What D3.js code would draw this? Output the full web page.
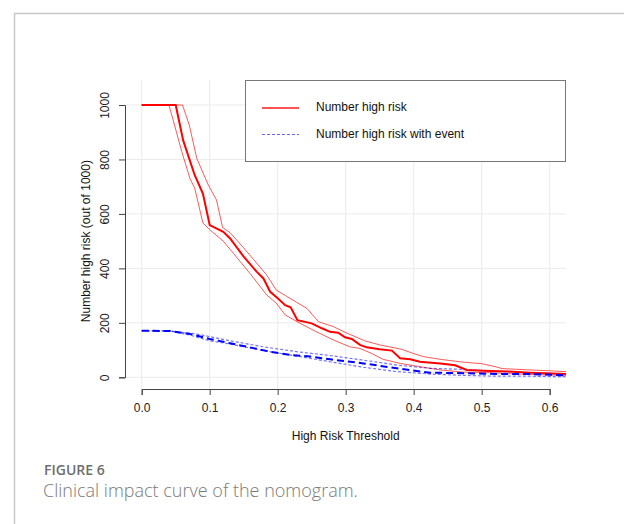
<!DOCTYPE html>
<html>
<head>
<meta charset="utf-8">
<script src="https://d3js.org/d3.v7.min.js"></script>
<style>
  body { margin: 0; background: #fff; }
  svg text { font-family: "Liberation Sans", Arial, sans-serif; }
  .cap { font-family: "Open Sans", "Noto Sans", sans-serif !important; }
</style>
</head>
<body>
<div id="chart"></div>
<script>
// thresholds / counts (out of 1000)
const xTicks = [0, 0.1, 0.2, 0.3, 0.4, 0.5, 0.6];
const yTicks = [0, 200, 400, 600, 800, 1000];

// number high risk (estimate, upper, lower)
const hrT = [0, 0.05, 0.061, 0.078, 0.09, 0.1, 0.12, 0.13, 0.15, 0.169, 0.179, 0.189, 0.2, 0.211, 0.219, 0.229, 0.25, 0.265, 0.277, 0.289, 0.299, 0.309, 0.321, 0.331, 0.35, 0.368, 0.38, 0.395, 0.409, 0.439, 0.461, 0.478, 0.502, 0.54, 0.571, 0.624];
const hrV = [1000, 1000, 870, 742, 675, 559, 534, 510, 443, 388, 363, 314, 290, 265, 257, 210, 198, 180, 167, 164, 147, 141, 119, 110, 103, 98, 70, 66, 57, 51, 44, 27, 24, 21, 17, 12];
const hrUpT = [0, 0.06, 0.07, 0.081, 0.098, 0.11, 0.119, 0.13, 0.142, 0.159, 0.184, 0.198, 0.218, 0.243, 0.26, 0.282, 0.301, 0.328, 0.35, 0.382, 0.399, 0.414, 0.439, 0.471, 0.5, 0.52, 0.53, 0.571, 0.624];
const hrUpV = [1000, 1000, 926, 804, 706, 651, 550, 531, 498, 449, 375, 320, 290, 253, 204, 186, 163, 134, 119, 103, 88, 76, 66, 56, 50, 39, 32, 27, 21];
const hrLoT = [0, 0.04, 0.047, 0.059, 0.071, 0.078, 0.09, 0.1, 0.12, 0.135, 0.159, 0.184, 0.198, 0.211, 0.233, 0.257, 0.282, 0.306, 0.321, 0.338, 0.355, 0.38, 0.404, 0.439, 0.473, 0.512, 0.551, 0.624];
const hrLoV = [1000, 1000, 938, 828, 730, 694, 567, 542, 500, 455, 382, 302, 272, 229, 198, 167, 137, 112, 106, 88, 66, 51, 41, 27, 19, 17, 12, 7];

// number high risk with event (estimate, upper, lower)
const evT = [0, 0.042, 0.071, 0.1, 0.13, 0.159, 0.189, 0.218, 0.248, 0.277, 0.326, 0.375, 0.424, 0.473, 0.522, 0.571, 0.624];
const evV = [171, 170, 159, 141, 125, 110, 94, 82, 76, 66, 51, 33, 17, 15, 12, 12, 7];
const evUpT = [0, 0.042, 0.081, 0.13, 0.179, 0.228, 0.277, 0.326, 0.375, 0.424, 0.473, 0.522, 0.571, 0.624];
const evUpV = [171, 170, 159, 134, 112, 94, 80, 63, 45, 33, 29, 21, 17, 12];
const evLoT = [0, 0.042, 0.071, 0.1, 0.13, 0.179, 0.228, 0.277, 0.326, 0.375, 0.424, 0.473, 0.522, 0.571, 0.624];
const evLoV = [171, 170, 155, 134, 122, 98, 78, 57, 37, 21, 12, 7, 4, 4, 2];

const W = 624, H = 524;
const svg = d3.select("#chart").append("svg")
    .attr("width", W).attr("height", H);

// page frame
svg.append("path")
    .attr("d", `M14.5,${H} V13.5 H${W}`)
    .attr("fill", "none").attr("stroke", "#c8c8c8").attr("stroke-width", 1.5);

// scales
const x = d3.scaleLinear().domain([0, 0.6]).range([141.7, 549.7]);
const y = d3.scaleLinear().domain([0, 1000]).range([377.3, 105]);
const plot = {left: 125, right: 566, top: 80, bottom: 389};

// grid
svg.append("g").selectAll("line").data(xTicks).join("line")
    .attr("x1", d => x(d)).attr("x2", d => x(d))
    .attr("y1", plot.top).attr("y2", plot.bottom)
    .attr("stroke", "#ebebeb").attr("stroke-width", 1);
svg.append("g").selectAll("line").data(yTicks).join("line")
    .attr("x1", plot.left).attr("x2", plot.right)
    .attr("y1", d => y(d)).attr("y2", d => y(d))
    .attr("stroke", "#ebebeb").attr("stroke-width", 1);

// axes
const gx = svg.append("g")
    .attr("transform", `translate(0,${plot.bottom})`)
    .call(d3.axisBottom(x).tickValues(xTicks).tickFormat(d3.format(".1f")).tickSizeOuter(0).tickSize(6).tickPadding(8));
const gy = svg.append("g")
    .attr("transform", `translate(${plot.left},0)`)
    .call(d3.axisLeft(y).tickValues(yTicks).tickFormat(d3.format("d")).tickSizeOuter(0).tickSize(6));
[gx, gy].forEach(g => {
    g.select(".domain").attr("stroke", "#444");
    g.selectAll(".tick line").attr("stroke", "#444");
    g.selectAll("text").attr("fill", "#222").style("font-size", "12px");
});
gy.selectAll(".tick text")
    .attr("x", null).attr("dy", null)
    .attr("text-anchor", "middle")
    .attr("transform", "translate(-19,0) rotate(-90)")
    .attr("dominant-baseline", "middle");

// axis titles
svg.append("text")
    .attr("x", (x(0) + x(0.6)) / 2).attr("y", 440)
    .attr("text-anchor", "middle").style("font-size", "12px").attr("fill", "#111")
    .text("High Risk Threshold");
svg.append("text")
    .attr("transform", `translate(90,${(y(0) + y(1000)) / 2}) rotate(-90)`)
    .attr("text-anchor", "middle").style("font-size", "12px").attr("fill", "#111")
    .text("Number high risk (out of 1000)");

// curves
function draw(ts, vs, color, width, dash, opacity) {
    const pts = ts.map((t, i) => [t, vs[i]]);
    svg.append("path")
        .datum(pts)
        .attr("d", d3.line().x(d => x(d[0])).y(d => y(d[1])))
        .attr("fill", "none")
        .attr("stroke", color)
        .attr("stroke-width", width)
        .attr("stroke-dasharray", dash)
        .attr("stroke-opacity", opacity);
}
draw(hrUpT, hrUpV, "#ff0000", 1, null, 0.65);
draw(hrLoT, hrLoV, "#ff0000", 1, null, 0.65);
draw(evUpT, evUpV, "#0000ff", 1.2, "3,2", 0.55);
draw(evLoT, evLoV, "#0000ff", 1.2, "3,2", 0.55);
draw(hrT, hrV, "#ff0000", 2, null, 1);
draw(evT, evV, "#0000ff", 2, "7,4", 1);

// legend
const lg = svg.append("g");
lg.append("rect")
    .attr("x", 245.5).attr("y", 80.5).attr("width", 320).attr("height", 81)
    .attr("fill", "#fff").attr("stroke", "#777").attr("stroke-width", 1);
const legendItems = [
    {label: "Number high risk", color: "#ff0000", dash: null, w: 1.6, op: 0.9, yy: 108},
    {label: "Number high risk with event", color: "#0000ff", dash: "3,2", w: 1, op: 0.6, yy: 134.5}
];
legendItems.forEach(it => {
    lg.append("line")
        .attr("x1", 262).attr("x2", 299).attr("y1", it.yy).attr("y2", it.yy)
        .attr("stroke", it.color).attr("stroke-width", it.w)
        .attr("stroke-dasharray", it.dash).attr("stroke-opacity", it.op);
    lg.append("text")
        .attr("x", 316).attr("y", it.yy).attr("dominant-baseline", "middle")
        .style("font-size", "12px").attr("fill", "#111")
        .text(it.label);
});

// caption
svg.append("text").attr("class", "cap")
    .attr("x", 44).attr("y", 475)
    .style("font-size", "14px").style("font-weight", 600).attr("fill", "#6e6e6e")
    .text("FIGURE 6");
svg.append("text").attr("class", "cap")
    .attr("x", 43).attr("y", 497)
    .style("font-size", "18px").style("font-weight", 300).attr("fill", "#7a7a7a")
    .text("Clinical impact curve of the nomogram.");
</script>
</body>
</html>
